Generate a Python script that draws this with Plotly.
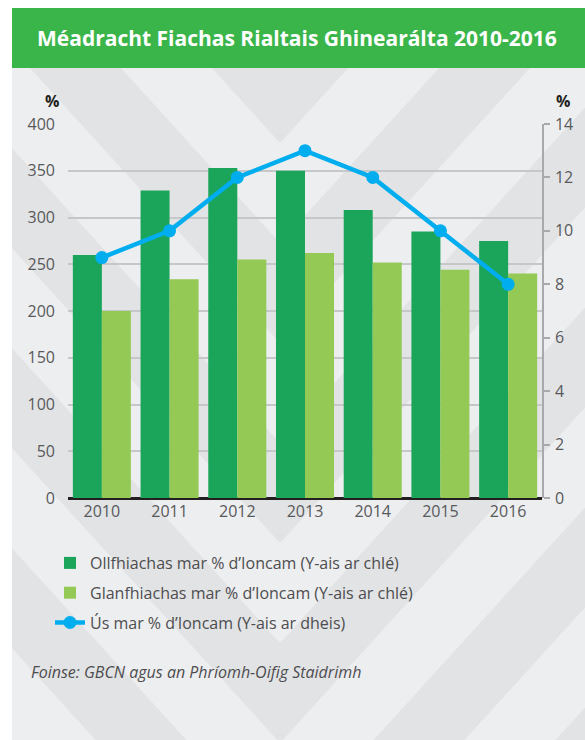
import plotly.graph_objects as go

years = ["2010", "2011", "2012", "2013", "2014", "2015", "2016"]
gross_debt = [260, 329, 353, 350, 308, 285, 275]
net_debt = [200, 234, 255, 262, 252, 244, 240]
interest = [9, 10, 12, 13, 12, 10, 8]

name_gross = "Ollfhiachas mar % d’Ioncam (Y-ais ar chlé)"
name_net = "Glanfhiachas mar % d’Ioncam (Y-ais ar chlé)"
name_int = "Ús mar % d’Ioncam (Y-ais ar dheis)"
title_text = "Méadracht Fiachas Rialtais Ghinearálta 2010-2016"
source_text = "Foinse: GBCN agus an Phríomh-Oifig Staidrimh"

W, H = 585, 740
L, R, T, B = 68, 43, 124, 242
PW = W - L - R
PH = H - T - B


def px(x):
    return (x - L) / PW


def py(y):
    return (H - B - y) / PH


FONT = "Open Sans"
GRAY = "#58595B"

fig = go.Figure()
fig.add_trace(go.Bar(x=years, y=gross_debt, name=name_gross,
                     marker=dict(color="#1BA55B", line=dict(width=0)),
                     legendgroup="a"))
fig.add_trace(go.Bar(x=years, y=net_debt, name=name_net,
                     marker=dict(color="#94C955", line=dict(width=0)),
                     legendgroup="b"))
fig.add_trace(go.Scatter(x=years, y=interest, name=name_int, yaxis="y2",
                         mode="lines+markers",
                         line=dict(color="#00AEEF", width=4.5),
                         marker=dict(color="#00AEEF", size=13),
                         legendgroup="c"))

shapes = []
# panel background
shapes.append(dict(type="rect", xref="paper", yref="paper", layer="below",
                   x0=px(12), x1=px(W + 5), y0=py(68), y1=py(H + 5),
                   fillcolor="#EDEEF0", line=dict(width=0)))
# chevron bands
VX = 280
K = 1.1
for yc in [43, 243, 443, 643, 843, 1043]:
    y_top_c = yc
    y_bot_c = yc + 100
    pts = [
        (12, y_top_c - (VX - 12) * K),
        (VX, y_top_c),
        (W + 5, y_top_c - (W + 5 - VX) * K),
        (W + 5, y_bot_c - (W + 5 - VX) * K),
        (VX, y_bot_c),
        (12, y_bot_c - (VX - 12) * K),
    ]
    path = "M " + " L ".join(f"{px(a):.5f},{py(b):.5f}" for a, b in pts) + " Z"
    shapes.append(dict(type="path", xref="paper", yref="paper", layer="below",
                       path=path, fillcolor="#E2E3E5", line=dict(width=0)))
# cover above and left of panel
shapes.append(dict(type="rect", xref="paper", yref="paper", layer="below",
                   x0=px(-5), x1=px(W + 5), y0=py(8), y1=py(-20),
                   fillcolor="white", line=dict(width=0)))
shapes.append(dict(type="rect", xref="paper", yref="paper", layer="below",
                   x0=px(-5), x1=px(12), y0=py(8), y1=py(H + 5),
                   fillcolor="white", line=dict(width=0)))
# title bar
shapes.append(dict(type="rect", xref="paper", yref="paper", layer="below",
                   x0=px(12), x1=px(W + 5), y0=py(68), y1=py(8),
                   fillcolor="#3AB54A", line=dict(width=0)))

annotations = [
    dict(text=f"<b>{title_text}</b>", xref="paper", yref="paper",
         x=px(297), y=py(38), xanchor="center", yanchor="middle",
         showarrow=False, font=dict(family=FONT, size=21, color="white")),
    dict(text="<b>%</b>", xref="paper", yref="paper", x=px(52), y=py(101),
         xanchor="center", yanchor="middle", showarrow=False,
         font=dict(family=FONT, size=16, color="#231F20")),
    dict(text="<b>%</b>", xref="paper", yref="paper", x=px(563), y=py(101),
         xanchor="center", yanchor="middle", showarrow=False,
         font=dict(family=FONT, size=16, color="#231F20")),
    dict(text=source_text, xref="paper", yref="paper", x=px(29), y=py(672),
         xanchor="left", yanchor="middle", showarrow=False,
         font=dict(family=FONT, size=16, color="#4D4D4F", style="italic")),
]

fig.update_layout(
    width=W, height=H,
    margin=dict(l=L, r=R, t=T, b=B, pad=0),
    paper_bgcolor="white",
    plot_bgcolor="rgba(0,0,0,0)",
    barmode="group", bargap=0.143, bargroupgap=0,
    font=dict(family=FONT, size=16, color=GRAY),
    showlegend=True,
    legend=dict(x=px(50), y=py(546), xanchor="left", yanchor="top",
                bgcolor="rgba(0,0,0,0)", traceorder="grouped",
                tracegroupgap=6, font=dict(family=FONT, size=16, color="#4D4D4F"),
                itemwidth=30),
    shapes=shapes,
    annotations=annotations,
    xaxis=dict(type="category", showline=False, ticks="", showgrid=False,
               tickfont=dict(family=FONT, size=16, color=GRAY),
               ticklabelstandoff=2),
    yaxis=dict(range=[0, 400], dtick=50, showgrid=True, gridcolor="#C6C7C9",
               gridwidth=1.5, zeroline=True, zerolinecolor="#231F20",
               zerolinewidth=3, showline=False, ticks="",
               tickfont=dict(family=FONT, size=16, color=GRAY),
               ticklabelstandoff=12),
    yaxis2=dict(range=[0, 14], dtick=2, overlaying="y", side="right",
                showgrid=False, zeroline=False, showline=True,
                linecolor="#A7A9AC", linewidth=1.5, ticks="outside",
                ticklen=6, tickcolor="#A7A9AC", tickwidth=1.5,
                tickfont=dict(family=FONT, size=16, color=GRAY),
                ticklabelstandoff=2),
)

fig.write_html("out.html", config={"displayModeBar": False},
               post_script="document.body.style.margin='0';document.body.style.overflow='hidden';")
